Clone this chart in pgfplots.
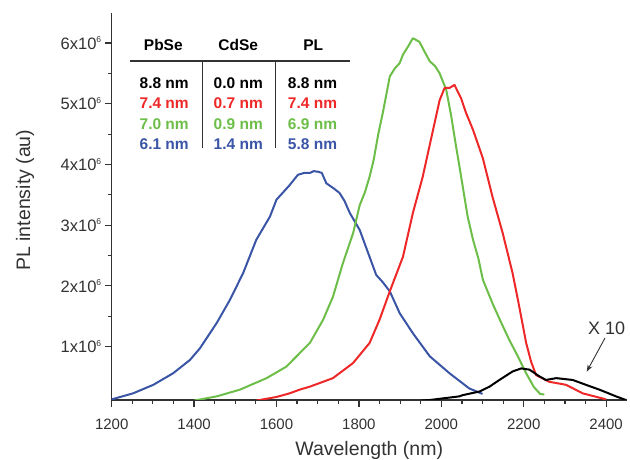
\documentclass[border=0pt]{standalone}
\usepackage{pgfplots}
\pgfplotsset{compat=1.18}
\usepackage{fontspec}
\setmainfont{Liberation Sans}
\usetikzlibrary{arrows.meta}
\definecolor{cred}{RGB}{238,40,40}
\definecolor{cgreen}{RGB}{108,190,72}
\definecolor{cblue}{RGB}{58,84,166}
\definecolor{axgray}{RGB}{50,50,50}
\newcommand{\tenp}{x10\raisebox{6.5pt}{\fontsize{8.5}{8.5}\selectfont 6}}
\begin{document}
\begin{tikzpicture}[x=1pt,y=1pt]
\path[use as bounding box] (-111.7,-60) rectangle (518.3,400);
\begin{axis}[
    scale only axis,
    width=515pt,
    height=387.3pt,
    at={(0,0)}, anchor=south west,
    xmin=1200, xmax=2450,
    ymin=0.12, ymax=6.5,
    axis x line=bottom,
    axis y line=left,
    axis line style={-, axgray, line width=1.2pt},
    xtick={1200,1400,...,2400},
    minor x tick num=3,
    ytick={1,2,3,4,5,6},
    minor y tick num=1,
    yticklabels={1\tenp,2\tenp,3\tenp,4\tenp,5\tenp,6\tenp},
    tick align=outside,
    major tick length=7pt,
    minor tick length=4pt,
    tick style={axgray, line width=1.2pt},
    xticklabel style={font=\fontsize{15}{16}\selectfont, text=axgray, yshift=-8pt},
    yticklabel style={font=\fontsize{16.5}{17}\selectfont, text=axgray},
    /pgf/number format/assume math mode=true,
    /pgf/number format/1000 sep={},
    xlabel={Wavelength (nm)},
    ylabel={PL intensity (au)},
    label style={font=\fontsize{19.5}{21}\selectfont, text=axgray},
    x label style={at={(axis description cs:0.5,-0.129)}, anchor=center},
    y label style={at={(axis description cs:-0.168,0.516)}, anchor=center},
    every axis plot/.append style={no marks, line width=2pt, line join=round},
]
% blue: 6.1 nm PbSe / 1.4 nm CdSe
\addplot[cblue] coordinates {
(1200,0.13)(1252,0.23)(1301,0.37)(1349,0.56)(1390,0.78)(1414,0.97)(1455,1.39)
(1487,1.77)(1519,2.21)(1551,2.76)(1584,3.14)(1600,3.42)(1632,3.66)(1652,3.83)
(1667,3.86)(1681,3.86)(1690,3.89)(1701,3.88)(1710,3.86)(1721,3.69)(1740,3.60)
(1753,3.53)(1765,3.40)(1778,3.20)(1802,2.92)(1822,2.55)(1842,2.18)(1858,2.06)
(1875,1.91)(1899,1.55)(1931,1.22)(1972,0.84)(2020,0.56)(2068,0.31)(2100,0.22)
};
% green: 7.0 nm / 0.9 nm
\addplot[cgreen] coordinates {
(1400,0.11)(1455,0.18)(1511,0.29)(1576,0.48)(1624,0.67)(1656,0.89)(1681,1.06)
(1713,1.44)(1737,1.82)(1761,2.37)(1786,2.87)(1802,3.33)(1815,3.55)(1826,3.80)
(1836,4.08)(1847,4.50)(1858,4.85)(1875,5.45)(1887,5.58)(1899,5.67)(1907,5.81)
(1920,5.95)(1931,6.08)(1947,6.02)(1960,5.85)(1972,5.70)(1985,5.62)(1996,5.50)
(2012,5.23)(2024,4.80)(2036,4.29)(2044,3.97)(2064,3.14)(2077,2.76)(2090,2.45)
(2101,2.10)(2125,1.70)(2145,1.40)(2165,1.11)(2185,0.85)(2206,0.56)(2225,0.33)
(2240,0.22)(2250,0.21)
};
% red: 7.4 nm / 0.7 nm
\addplot[cred] coordinates {
(1551,0.11)(1600,0.17)(1632,0.23)(1656,0.29)(1681,0.34)(1737,0.48)(1786,0.73)
(1826,1.06)(1850,1.44)(1875,1.91)(1907,2.48)(1931,3.20)(1955,3.80)(1980,4.57)
(1996,5.06)(2008,5.26)(2020,5.26)(2032,5.31)(2048,5.09)(2060,4.85)(2077,4.57)
(2101,4.10)(2125,3.45)(2149,2.87)(2173,2.21)(2186,1.77)(2206,1.06)(2218,0.75)
(2230,0.53)(2262,0.42)(2303,0.37)(2343,0.23)(2400,0.13)
};
% black: 8.8 nm / 0.0 nm (x10)
\addplot[black] coordinates {
(1951,0.11)(1972,0.12)(2020,0.16)(2044,0.18)(2052,0.20)(2093,0.26)(2117,0.34)
(2141,0.45)(2173,0.59)(2194,0.64)(2214,0.62)(2238,0.51)(2254,0.45)(2279,0.48)
(2319,0.45)(2351,0.37)(2384,0.29)(2424,0.18)(2448,0.12)
};
\end{axis}
% size table
\begin{scope}[every node/.style={anchor=base, font=\fontsize{15.5}{17}\selectfont\bfseries}]
\node[text=black] at (51.6,349.2) {PbSe};
\node[text=black] at (126.6,349.2) {CdSe};
\node[text=black] at (201.6,349.2) {PL};
\draw[axgray, line width=1.2pt] (18.3,339) -- (238.3,339);
\draw[axgray, line width=1.2pt] (90.6,339) -- (90.6,252);
\draw[axgray, line width=1.2pt] (164,339) -- (164,252);
\node[text=black]  at (52.5,311.8) {8.8 nm};
\node[text=black]  at (126.6,311.8) {0.0 nm};
\node[text=black]  at (200.8,311.8) {8.8 nm};
\node[text=cred]   at (52.5,291.5) {7.4 nm};
\node[text=cred]   at (126.6,291.5) {0.7 nm};
\node[text=cred]   at (200.8,291.5) {7.4 nm};
\node[text=cgreen] at (52.5,270.9) {7.0 nm};
\node[text=cgreen] at (126.6,270.9) {0.9 nm};
\node[text=cgreen] at (200.8,270.9) {6.9 nm};
\node[text=cblue]  at (52.5,250.2) {6.1 nm};
\node[text=cblue]  at (126.6,250.2) {1.4 nm};
\node[text=cblue]  at (200.8,250.2) {5.8 nm};
\end{scope}
\node[font=\fontsize{18}{20}\selectfont, text=axgray] at (495,71.7) {X 10};
\draw[-{Stealth[length=7pt,width=5pt]}, line width=0.9pt, axgray] (493.3,62) -- (475,28.3);
\end{tikzpicture}
\end{document}
